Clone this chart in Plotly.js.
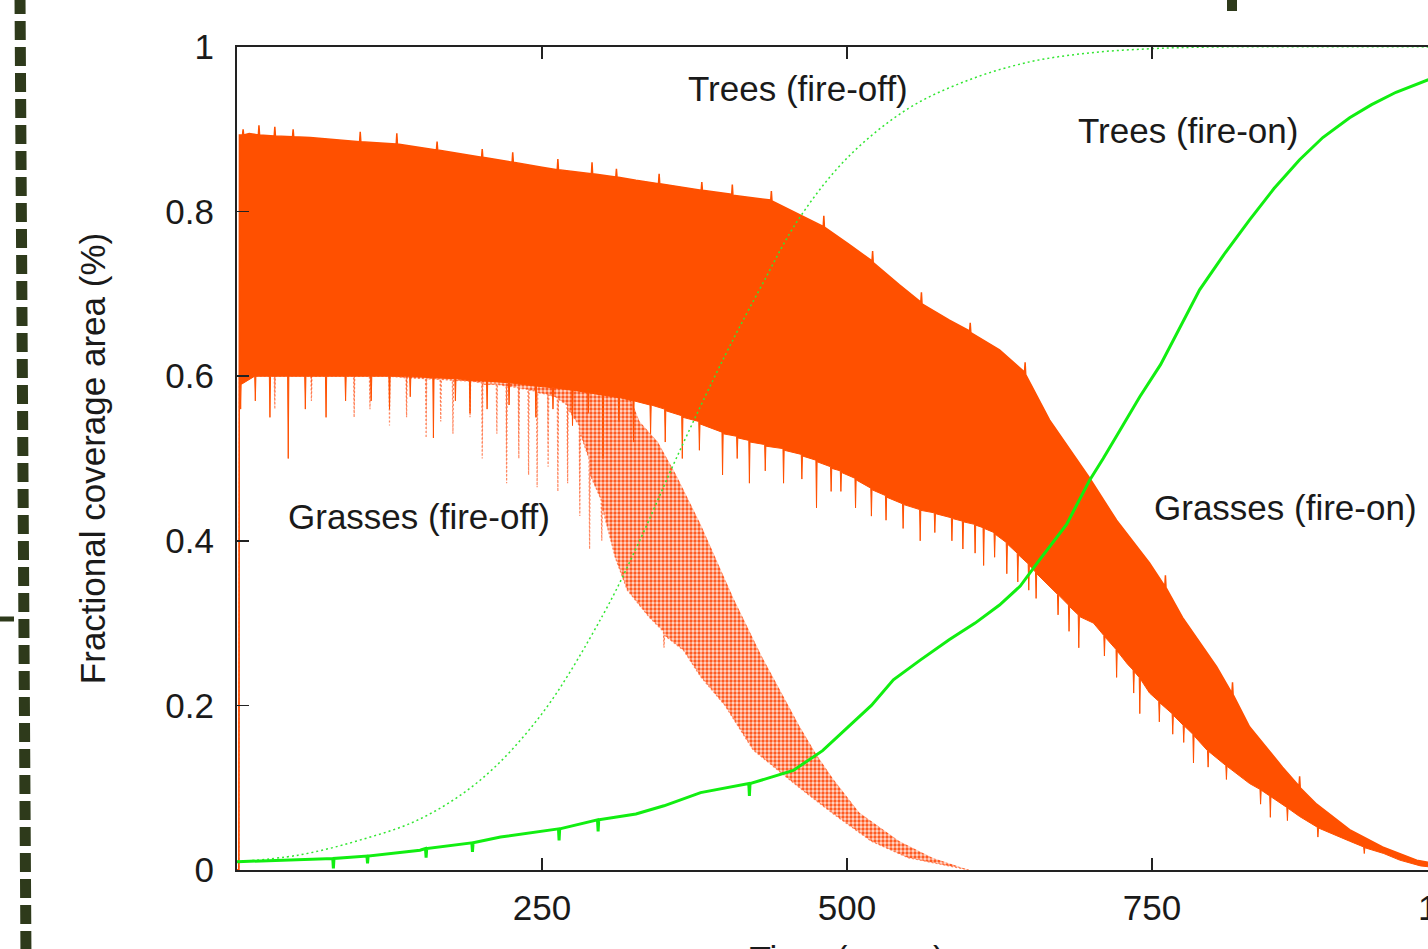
<!DOCTYPE html>
<html>
<head>
<meta charset="utf-8">
<script src="https://cdn.plot.ly/plotly-3.0.1.min.js"></script>
<style>
html, body { margin: 0; padding: 0; overflow: hidden; background: #ffffff; }
#chart { width: 1520px; height: 1000px; }
</style>
</head>
<body>
<div id="chart"></div>
<script>
// ---- Tick labels ----
const xTickVals = [250, 500, 750, 1000];
const xTickText = ['250', '500', '750', '1000'];
const yTickVals = [0, 0.2, 0.4, 0.6, 0.8, 1];
const yTickText = ['0', '0.2', '0.4', '0.6', '0.8', '1'];

// ---- Trees (fire-off): dotted green ----
const treesOffT = [0, 50, 100, 150, 200, 250, 300, 330, 360, 400, 430, 460, 500, 550, 600, 650, 700, 750, 800, 1000];
const treesOffY = [0.01, 0.018, 0.036, 0.062, 0.11, 0.19, 0.31, 0.40, 0.50, 0.625, 0.71, 0.79, 0.865, 0.925, 0.96, 0.982, 0.993, 0.998, 1.0, 1.0];

// ---- Trees (fire-on): solid green [year, value] ----
const treesOnPts = [[0,0.01],[40,0.012],[78.5,0.014],[79,0.002],[79.5,0.014],[106.5,0.017],[107,0.008],[107.5,0.017],[150,0.024],[154.5,0.026],[155,0.015],[155.5,0.026],[192.5,0.033],[193,0.022],[193.5,0.033],[216,0.04],[245,0.046],[263.5,0.05],[264,0.036],[264.5,0.05],[295.5,0.061],[296,0.047],[296.5,0.061],[327,0.068],[350,0.078],[380,0.094],[419.5,0.105],[420,0.09],[420.5,0.105],[456,0.121],[480,0.145],[500,0.172],[520,0.2],[538,0.231],[560,0.255],[584,0.28],[605,0.3],[625,0.322],[642,0.345],[658,0.377],[680,0.42],[699,0.474],[710,0.5],[724,0.535],[740,0.575],[757,0.614],[773,0.66],[789,0.705],[810,0.75],[830,0.79],[850,0.828],[871,0.863],[890,0.89],[912,0.914],[930,0.93],[950,0.945],[976,0.96],[1000,0.972]];

// ---- Grasses (fire-on): solid orange band, upper envelope [year, value] ----
const grassOnUpPts = [[0,0],[1.5,0],[2,0.893],[4.5,0.893],[5,0.9],[5.5,0.893],[10,0.895],[17.5,0.893],[18,0.905],[18.5,0.893],[30.5,0.892],[31,0.903],[31.5,0.892],[45.5,0.891],[46,0.9],[46.5,0.891],[60,0.89],[100.5,0.885],[101,0.897],[101.5,0.885],[130.5,0.882],[131,0.895],[131.5,0.882],[163.5,0.875],[164,0.885],[164.5,0.875],[200.5,0.866],[201,0.876],[201.5,0.866],[225.5,0.86],[226,0.872],[226.5,0.86],[250,0.854],[262.5,0.851],[263,0.864],[263.5,0.851],[290.5,0.846],[291,0.86],[291.5,0.846],[310.5,0.842],[311,0.852],[311.5,0.842],[327,0.838],[345.5,0.834],[346,0.846],[346.5,0.834],[380.5,0.826],[381,0.836],[381.5,0.826],[405.5,0.821],[406,0.833],[406.5,0.82],[437.5,0.814],[438,0.825],[438.5,0.813],[461,0.796],[480.5,0.782],[481,0.795],[481.5,0.781],[502,0.76],[520.5,0.74],[521,0.752],[521.5,0.738],[543,0.711],[560.5,0.69],[561,0.702],[561.5,0.688],[584,0.668],[600.5,0.655],[601,0.665],[601.5,0.653],[625,0.632],[645.5,0.605],[646,0.617],[646.5,0.602],[666,0.547],[683,0.51],[699,0.476],[721,0.425],[748,0.373],[760.5,0.345],[761,0.358],[761.5,0.343],[775,0.307],[803,0.247],[815.5,0.215],[816,0.228],[816.5,0.213],[830,0.174],[857,0.125],[870.5,0.102],[871,0.114],[871.5,0.1],[885,0.08],[912,0.049],[939,0.028],[967,0.012],[1000,0.003]];

// ---- Grasses (fire-on): lower envelope with downward spikes [year, value] ----
const grassOnLoPts = [[0,0],[1.5,0],[2,0.58],[2.6,0.59],[3,0.56],[3.4,0.59],[14.5,0.6],[15,0.57],[15.5,0.6],[26.5,0.6],[27,0.55],[27.5,0.6],[41.5,0.6],[42,0.5],[42.5,0.6],[55.5,0.6],[56,0.56],[56.5,0.6],[72.5,0.6],[73,0.55],[73.5,0.6],[88.5,0.6],[89,0.57],[89.5,0.6],[109.5,0.6],[110,0.57],[110.5,0.6],[124.5,0.6],[125,0.56],[125.5,0.6],[141.5,0.6],[142,0.575],[142.5,0.6],[160.5,0.598],[161,0.525],[161.5,0.598],[178.5,0.597],[179,0.57],[179.5,0.597],[190.5,0.595],[191,0.555],[191.5,0.595],[204.5,0.594],[205,0.56],[205.5,0.594],[222.5,0.592],[223,0.565],[223.5,0.592],[244.5,0.588],[245,0.55],[245.5,0.588],[258.5,0.586],[259,0.56],[259.5,0.586],[274.5,0.583],[275,0.54],[275.5,0.583],[287.5,0.58],[288,0.555],[288.5,0.58],[299.5,0.577],[300,0.5],[300.5,0.577],[312.5,0.574],[313,0.545],[313.5,0.574],[324.5,0.57],[325,0.52],[325.5,0.57],[338.5,0.565],[339,0.53],[339.5,0.565],[350.5,0.56],[351,0.52],[351.5,0.558],[364.5,0.552],[365,0.5],[365.5,0.55],[378.5,0.545],[379,0.51],[379.5,0.542],[397.5,0.532],[398,0.48],[398.5,0.53],[409.5,0.527],[410,0.5],[410.5,0.525],[419.5,0.522],[420,0.47],[420.5,0.52],[432.5,0.517],[433,0.485],[433.5,0.515],[447.5,0.512],[448,0.47],[448.5,0.51],[462.5,0.505],[463,0.475],[463.5,0.503],[474.5,0.498],[475,0.44],[475.5,0.496],[486.5,0.49],[487,0.46],[487.5,0.488],[494.5,0.485],[495,0.46],[495.5,0.483],[506.5,0.476],[507,0.44],[507.5,0.474],[519.5,0.464],[520,0.43],[520.5,0.462],[531.5,0.455],[532,0.425],[532.5,0.453],[545.5,0.445],[546,0.415],[546.5,0.444],[559.5,0.438],[560,0.4],[560.5,0.437],[571.5,0.434],[572,0.41],[572.5,0.433],[585.5,0.428],[586,0.4],[586.5,0.427],[594.5,0.424],[595,0.39],[595.5,0.423],[604.5,0.42],[605,0.385],[605.5,0.419],[611.5,0.416],[612,0.37],[612.5,0.415],[620.5,0.41],[621,0.38],[621.5,0.408],[630.5,0.398],[631,0.36],[631.5,0.396],[639.5,0.385],[640,0.35],[640.5,0.383],[648.5,0.372],[649,0.34],[649.5,0.37],[654.5,0.362],[655,0.33],[655.5,0.36],[666,0.345],[672.5,0.335],[673,0.31],[673.5,0.334],[681.5,0.322],[682,0.29],[682.5,0.32],[689.5,0.31],[690,0.27],[690.5,0.308],[702,0.3],[710.5,0.285],[711,0.26],[711.5,0.283],[720.5,0.268],[721,0.234],[721.5,0.266],[730,0.25],[734.5,0.243],[735,0.215],[735.5,0.241],[739.5,0.234],[740,0.19],[740.5,0.232],[748,0.215],[755.5,0.205],[756,0.18],[756.5,0.203],[766.5,0.19],[767,0.165],[767.5,0.188],[775.5,0.176],[776,0.155],[776.5,0.175],[783.5,0.165],[784,0.13],[784.5,0.163],[795.5,0.145],[796,0.125],[796.5,0.144],[810.5,0.127],[811,0.11],[811.5,0.126],[830,0.105],[838.5,0.098],[839,0.08],[839.5,0.097],[846.5,0.09],[847,0.064],[847.5,0.089],[860.5,0.076],[861,0.06],[861.5,0.075],[871,0.065],[885.5,0.052],[886,0.04],[886.5,0.051],[900,0.043],[912,0.035],[923.5,0.028],[924,0.02],[924.5,0.027],[940,0.02],[953,0.012],[970,0.005],[1000,0]];

// ---- Grasses (fire-off): dotted band, upper and lower envelopes [year, value] ----
const grassOffUpPts = [[0,0],[1.5,0],[2,0.88],[100,0.87],[200,0.84],[280,0.75],[310,0.62],[330,0.545],[345,0.52],[360,0.48],[380,0.42],[407,0.33],[430,0.26],[461,0.175],[475,0.14],[489,0.11],[510,0.07],[543,0.035],[570,0.015],[600,0]];
const grassOffLoPts = [[0,0],[1.5,0],[2,0.6],[30.5,0.6],[31,0.56],[31.5,0.6],[60.5,0.6],[61,0.57],[61.5,0.6],[95.5,0.6],[96,0.55],[96.5,0.6],[108.5,0.6],[109,0.56],[109.5,0.6],[124.5,0.6],[125,0.54],[125.5,0.6],[138.5,0.598],[139,0.55],[139.5,0.598],[154.5,0.597],[155,0.525],[155.5,0.597],[166.5,0.596],[167,0.545],[167.5,0.596],[176.5,0.595],[177,0.53],[177.5,0.595],[190.5,0.594],[191,0.55],[191.5,0.594],[200.5,0.592],[201,0.5],[201.5,0.59],[212.5,0.59],[213,0.53],[213.5,0.59],[220.5,0.588],[221,0.47],[221.5,0.588],[230.5,0.586],[231,0.5],[231.5,0.585],[238.5,0.584],[239,0.48],[239.5,0.583],[245.5,0.582],[246,0.465],[246.5,0.58],[254.5,0.578],[255,0.49],[255.5,0.577],[262.5,0.574],[263,0.46],[263.5,0.572],[270.5,0.565],[271,0.47],[271.5,0.56],[280.5,0.54],[281,0.43],[281.5,0.53],[288.5,0.5],[289,0.39],[289.5,0.48],[298.5,0.45],[299,0.4],[299.5,0.44],[310,0.38],[320,0.34],[338,0.307],[349.5,0.29],[350,0.27],[350.5,0.285],[366,0.267],[380,0.235],[400,0.2],[423,0.146],[440,0.125],[461,0.1],[489,0.068],[520,0.035],[550,0.015],[600,0]];

// ---- Series labels ----
const labelTexts = ['Trees (fire-off)', 'Trees (fire-on)', 'Grasses (fire-off)', 'Grasses (fire-on)'];
const labelT = [460, 779.5, 149.2, 859.4];
const labelY = [0.949, 0.899, 0.43, 0.44];

const ORANGE = '#ff5000';
const GREEN = '#11ee11';
const FONT = 'Liberation Sans, Arial, Helvetica, sans-serif';
const TEXT = '#1a1a1a';
const FS = 35;

const xs = p => p.map(v => v[0]);
const ys = p => p.map(v => v[1]);

const traces = [
  { x: xs(grassOffLoPts), y: ys(grassOffLoPts), mode: 'lines',
    line: { width: 1.2, color: 'rgba(255,100,50,0.75)', dash: '2px,2px' }, hoverinfo: 'skip' },
  { x: xs(grassOffUpPts), y: ys(grassOffUpPts), mode: 'lines', line: { width: 0, color: 'rgba(255,110,60,0)' },
    fill: 'tonexty', fillcolor: 'rgba(255,150,110,0.5)',
    fillpattern: { shape: '.', fgcolor: '#ff5a22', bgcolor: 'rgba(255,175,145,0.45)', size: 4, solidity: 0.55 },
    hoverinfo: 'skip' },
  { x: xs(grassOnLoPts), y: ys(grassOnLoPts), mode: 'lines', line: { width: 1, color: ORANGE }, hoverinfo: 'skip' },
  { x: xs(grassOnUpPts), y: ys(grassOnUpPts), mode: 'lines', line: { width: 1.5, color: ORANGE },
    fill: 'tonexty', fillcolor: ORANGE, hoverinfo: 'skip' },
  { x: treesOffT, y: treesOffY, mode: 'lines', line: { width: 1.5, color: '#33e633', dash: '2px,3px', shape: 'spline' }, hoverinfo: 'skip' },
  { x: xs(treesOnPts), y: ys(treesOnPts), mode: 'lines', line: { width: 3, color: GREEN }, hoverinfo: 'skip' }
];

function px2paperX(px) { return (px - 237) / 1220; }
function px2paperY(py) { return (870 - py) / 823; }
const DECO = '#2e3a1b';

const layout = {
  width: 1520, height: 1000,
  margin: { l: 237, r: 63, t: 47, b: 130 },
  paper_bgcolor: '#ffffff', plot_bgcolor: '#ffffff',
  showlegend: false,
  font: { family: FONT, size: FS, color: TEXT },
  xaxis: {
    range: [0, 1000], tickvals: xTickVals, ticktext: xTickText,
    ticks: 'inside', ticklen: 12, tickwidth: 1.5, tickcolor: '#222',
    showline: true, linecolor: '#222', linewidth: 2, mirror: 'ticks',
    showgrid: false, zeroline: false, ticklabelstandoff: 6,
    tickfont: { family: FONT, size: FS, color: TEXT },
    title: { text: 'Time (years)', standoff: 20, font: { family: FONT, size: FS, color: TEXT } }
  },
  yaxis: {
    range: [0, 1], tickvals: yTickVals, ticktext: yTickText,
    ticks: 'inside', ticklen: 12, tickwidth: 1.5, tickcolor: '#222',
    showline: true, linecolor: '#222', linewidth: 2, mirror: 'ticks',
    showgrid: false, zeroline: false, ticklabelstandoff: 14,
    tickfont: { family: FONT, size: FS, color: TEXT },
    title: { text: 'Fractional coverage area (%)', standoff: 49, font: { family: FONT, size: 35, color: TEXT } }
  },
  annotations: labelTexts.map((t, i) => ({
    text: t, x: labelT[i], y: labelY[i], xref: 'x', yref: 'y',
    showarrow: false, xanchor: 'center', yanchor: 'middle',
    font: { family: FONT, size: FS, color: TEXT }
  })),
  shapes: [
    { type: 'line', xref: 'paper', yref: 'paper',
      x0: px2paperX(20), y0: px2paperY(-5), x1: px2paperX(26), y1: px2paperY(960),
      line: { color: DECO, width: 11, dash: '19px,7px' } },
    { type: 'line', xref: 'paper', yref: 'paper',
      x0: px2paperX(0), y0: px2paperY(619), x1: px2paperX(14), y1: px2paperY(619),
      line: { color: DECO, width: 5 } },
    { type: 'rect', xref: 'paper', yref: 'paper',
      x0: px2paperX(1227), y0: px2paperY(-2), x1: px2paperX(1237), y1: px2paperY(11),
      fillcolor: DECO, line: { width: 0 } }
  ]
};

Plotly.newPlot('chart', traces, layout, { staticPlot: true, displayModeBar: false });
</script>
</body>
</html>
